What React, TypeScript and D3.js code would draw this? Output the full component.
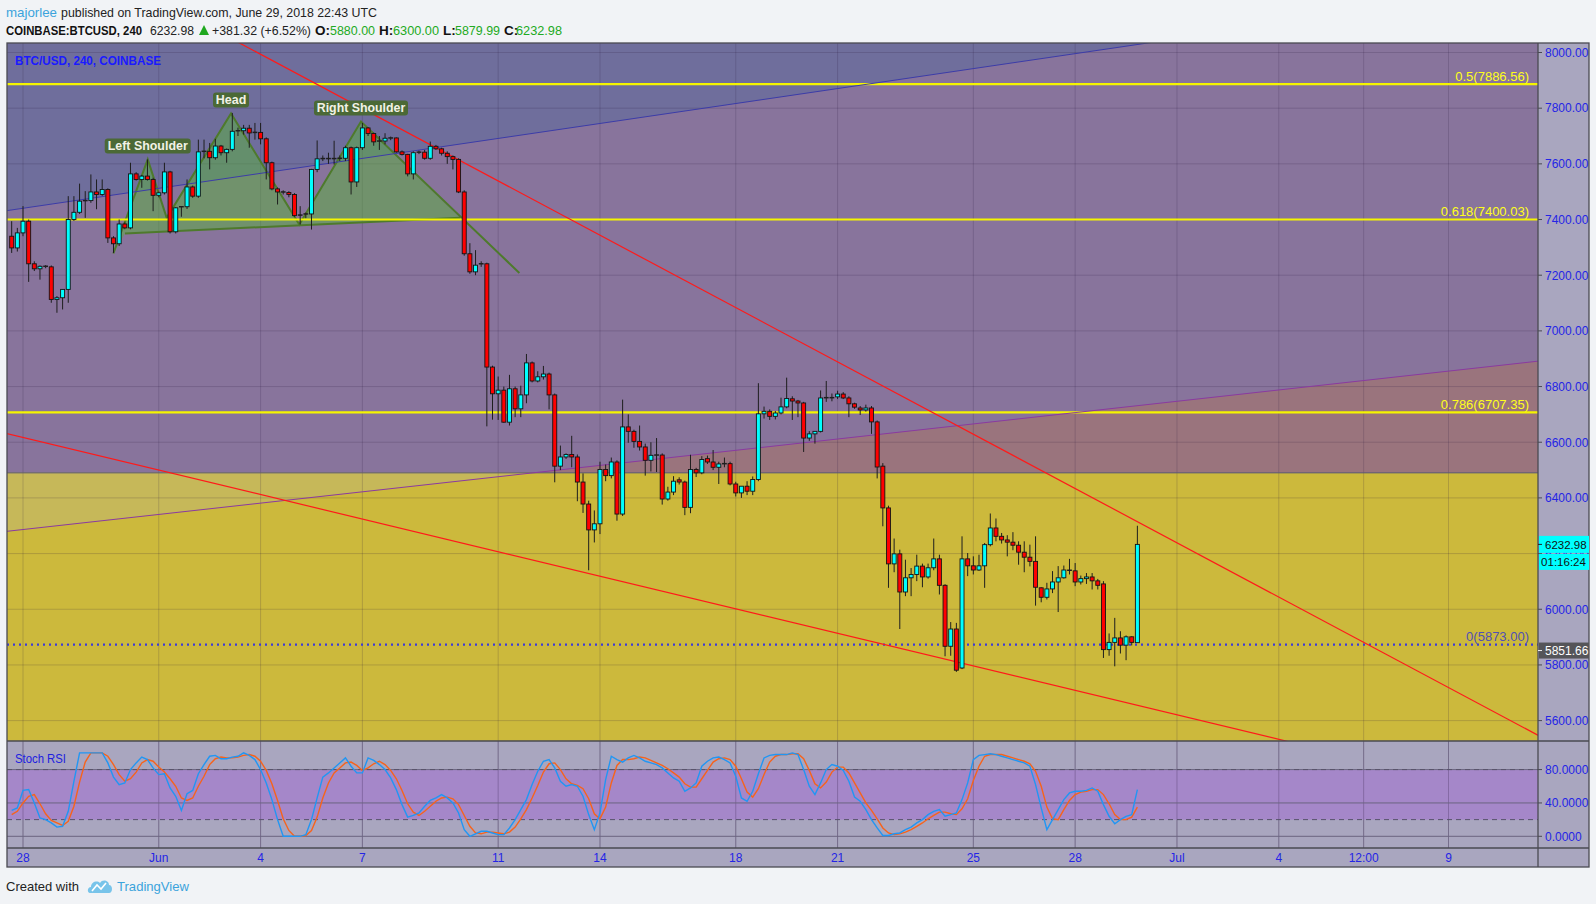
import React from "react";
import * as d3 from "d3";

// ---------- DATA ----------
const FIRST_BAR = Date.UTC(2018, 4, 27, 16); // first visible 4h candle
const BAR_MS = 4 * 3600 * 1000;
const t = (day: number, hour: number) => Date.UTC(2018, 4, day) + hour * 3600e3;

// [open, high, low, close] per 4h candle
const candles: [number, number, number, number][] = [
  [7340,7394,7280,7298],[7298,7370,7285,7352],[7352,7448,7340,7394],[7394,7400,7176,7241],[7241,7250,7215,7223],
  [7223,7235,7184,7232],[7232,7236,7225,7230],[7230,7235,7101,7113],[7113,7125,7065,7119],[7119,7150,7077,7149],
  [7149,7484,7101,7400],[7400,7484,7395,7426],[7426,7529,7420,7466],[7466,7502,7406,7468],[7468,7562,7460,7499],
  [7499,7544,7437,7490],[7490,7544,7485,7508],[7508,7512,7316,7334],[7334,7340,7280,7313],[7313,7400,7305,7384],
  [7384,7390,7365,7370],[7370,7604,7365,7564],[7564,7570,7540,7544],[7544,7560,7514,7556],[7556,7616,7540,7544],
  [7544,7550,7430,7487],[7487,7500,7480,7496],[7496,7604,7490,7571],[7571,7575,7350,7356],[7356,7445,7350,7442],
  [7442,7448,7410,7446],[7446,7544,7438,7517],[7517,7522,7478,7484],[7484,7687,7478,7643],[7643,7687,7620,7645],
  [7645,7675,7580,7622],[7622,7690,7615,7664],[7664,7668,7630,7640],[7640,7655,7604,7652],[7652,7783,7645,7717],
  [7717,7730,7700,7719],[7719,7740,7705,7728],[7728,7740,7658,7711],[7711,7747,7687,7713],[7713,7747,7670,7690],
  [7690,7695,7544,7604],[7604,7608,7505,7510],[7510,7515,7454,7499],[7499,7505,7490,7497],[7497,7502,7480,7490],
  [7490,7495,7410,7414],[7414,7448,7382,7416],[7416,7425,7405,7420],[7420,7582,7364,7580],[7580,7684,7570,7618],
  [7618,7630,7610,7619],[7619,7640,7600,7618],[7618,7683,7598,7619],[7619,7630,7610,7620],[7620,7665,7610,7658],
  [7658,7662,7490,7535],[7535,7662,7517,7658],[7658,7747,7650,7729],[7729,7732,7700,7709],[7709,7712,7665,7679],
  [7679,7700,7650,7682],[7682,7710,7670,7692],[7692,7698,7685,7693],[7693,7695,7640,7643],[7643,7648,7630,7634],
  [7634,7636,7555,7564],[7564,7645,7544,7640],[7640,7648,7635,7642],[7642,7650,7615,7620],[7620,7680,7615,7663],
  [7663,7668,7650,7654],[7654,7658,7630,7638],[7638,7645,7600,7626],[7626,7630,7580,7616],[7616,7620,7495,7499],
  [7499,7505,7270,7277],[7277,7315,7205,7212],[7212,7290,7200,7236],[7236,7250,7230,7241],[7241,7245,6657,6870],
  [6870,6875,6681,6774],[6774,6836,6680,6787],[6787,6800,6670,6672],[6672,6842,6660,6792],[6792,6800,6690,6720],
  [6720,6803,6690,6770],[6770,6917,6740,6885],[6885,6890,6815,6820],[6820,6855,6815,6835],[6835,6874,6825,6845],
  [6845,6850,6718,6770],[6770,6775,6456,6514],[6514,6588,6500,6547],[6547,6560,6540,6556],[6556,6623,6510,6547],
  [6547,6556,6388,6457],[6457,6488,6346,6378],[6378,6390,6140,6285],[6285,6355,6240,6307],[6307,6530,6270,6502],
  [6502,6520,6460,6480],[6480,6545,6470,6529],[6529,6535,6318,6342],[6342,6753,6335,6655],[6655,6700,6598,6639],
  [6639,6645,6580,6603],[6603,6660,6570,6583],[6583,6595,6480,6535],[6535,6600,6495,6553],[6553,6615,6493,6554],
  [6554,6560,6376,6396],[6396,6440,6390,6421],[6421,6478,6410,6460],[6465,6474,6448,6457],[6457,6462,6338,6366],
  [6366,6555,6345,6502],[6502,6508,6475,6490],[6490,6550,6485,6538],[6541,6552,6522,6529],[6529,6572,6500,6510],
  [6510,6530,6450,6522],[6522,6545,6510,6523],[6523,6530,6445,6450],[6450,6458,6405,6418],[6418,6430,6400,6442],
  [6442,6460,6410,6424],[6424,6477,6410,6466],[6466,6812,6460,6702],[6702,6728,6685,6711],[6711,6718,6680,6693],
  [6693,6712,6682,6705],[6705,6760,6700,6727],[6727,6832,6722,6757],[6756,6765,6680,6748],[6748,6752,6690,6741],
  [6741,6745,6565,6615],[6615,6640,6605,6630],[6630,6640,6595,6639],[6639,6786,6635,6759],[6759,6820,6745,6760],
  [6760,6775,6747,6759],[6763,6785,6755,6773],[6773,6780,6755,6759],[6759,6765,6690,6738],[6738,6742,6720,6726],
  [6723,6730,6698,6716],[6716,6735,6710,6723],[6723,6730,6630,6673],[6673,6678,6470,6511],[6514,6525,6298,6364],
  [6364,6372,6077,6163],[6163,6254,6133,6199],[6199,6214,5929,6062],[6062,6178,6047,6113],[6113,6148,6047,6125],
  [6125,6196,6101,6155],[6155,6164,6079,6116],[6116,6164,6110,6149],[6149,6254,6140,6181],[6181,6196,6053,6086],
  [6086,6090,5831,5867],[5867,5954,5833,5929],[5929,5951,5775,5781],[5789,6262,5785,6181],[6181,6202,6119,6156],
  [6156,6190,6125,6141],[6141,6196,6138,6156],[6156,6238,6077,6232],[6232,6344,6226,6292],[6292,6326,6244,6262],
  [6262,6274,6236,6249],[6249,6266,6190,6241],[6241,6277,6212,6230],[6230,6244,6160,6205],[6205,6244,6133,6187],
  [6187,6232,6154,6172],[6172,6262,6013,6079],[6077,6079,6025,6043],[6043,6095,6035,6073],[6073,6137,6058,6098],
  [6098,6155,5990,6113],[6113,6157,6110,6141],[6140,6181,6125,6140],[6138,6166,6083,6098],[6098,6121,6089,6110],
  [6110,6130,6091,6116],[6116,6130,6071,6102],[6102,6109,6071,6086],[6091,6101,5825,5855],[5855,5913,5833,5881],
  [5881,5969,5795,5897],[5897,5921,5841,5871],[5871,5906,5817,5901],[5901,5903,5870,5881],[5880,6300,5879.99,6232.98],
];

const stochK = [
  31,34,55,56,40,22,20,16,11,12, 30,66,100,100,100,100,100,88,71,62,
  64,80,88,95,92,82,74,75,58,48, 31,51,55,75,86,96,97,93,93,95,
  96,100,97,92,80,64,44,20,0,0, 0,0,2,20,46,71,76,82,88,94,
  84,76,76,94,91,86,80,70,56,38, 23,25,28,36,43,46,50,46,40,28,
  8,0,3,6,6,4,2,2,10,20, 32,44,62,78,90,92,82,66,60,62,
  60,48,26,8,28,68,96,92,89,94, 97,94,90,88,86,82,76,70,66,54,
  58,64,84,90,94,95,92,88,72,46, 42,54,75,94,97,98,98,98,100,98,
  80,60,50,64,80,86,84,79,66,47, 42,32,20,10,1,1,3,4,8,11,
  16,20,26,30,32,24,26,28,44,64, 92,97,98,99,98,96,94,92,90,88,
  84,62,34,8,20,32,44,52,54,54, 55,58,54,38,24,15,20,24,26,56,
];
const stochD = [
  26,30,40,48,50,39,27,19,16,13, 18,36,65,89,100,100,100,96,86,74,
  66,69,77,88,92,90,83,77,69,60, 46,43,46,60,72,86,93,95,94,94,
  95,97,98,96,90,79,63,43,21,7, 0,0,1,7,23,46,64,76,82,88,
  89,85,79,82,87,90,86,79,69,55, 39,29,25,30,36,42,46,47,45,38,
  25,12,4,3,5,5,4,3,5,11, 21,32,46,61,77,87,88,80,69,63,
  61,57,45,27,21,35,64,85,92,92, 93,95,94,91,88,85,81,76,71,63,
  59,59,69,79,89,93,94,92,84,69, 53,47,57,74,89,96,98,98,99,99,
  93,79,63,58,65,77,83,83,76,64, 52,40,31,21,10,4,2,3,5,8,
  12,16,21,25,29,29,27,26,33,45, 67,84,96,98,98,98,96,94,92,90,
  87,78,60,35,21,20,32,43,50,53, 54,56,56,50,39,26,20,20,23,35,
];

const priceTicks = [5600, 5800, 6000, 6200, 6400, 6600, 6800, 7000, 7200, 7400, 7600, 7800, 8000];
const rsiTicks = [0, 40, 80];
const dateTicks = [
  Date.UTC(2018,4,28), Date.UTC(2018,5,1), Date.UTC(2018,5,4), Date.UTC(2018,5,7), Date.UTC(2018,5,11),
  Date.UTC(2018,5,14), Date.UTC(2018,5,18), Date.UTC(2018,5,21), Date.UTC(2018,5,25), Date.UTC(2018,5,28),
  Date.UTC(2018,6,1), Date.UTC(2018,6,4), Date.UTC(2018,6,6,12), Date.UTC(2018,6,9),
];
const dateLabels = ["28","Jun","4","7","11","14","18","21","25","28","Jul","4","12:00","9"];

const fibRatios = ["0.5", "0.618", "0.786", "0"];
const fibPrices = [7886.56, 7400.03, 6707.35, 5873.0];
const boxTopPrice = 6490; // top of the yellow zone

// trend lines as [time, price] anchor pairs
const redUpper: [number, number][] = [[t(36, 22.75), 7867], [t(72, 13.2), 5553]];
const redLower: [number, number][] = [[t(27, 12.7), 6631], [t(64, 22.1), 5535]];
const blueLine: [number, number][] = [[t(27, 12.7), 7432], [t(60, 20.4), 8029]];
const purpleLine: [number, number][] = [[t(27, 12.7), 6280], [t(72, 13.2), 6890]];

// head & shoulders pattern points
const hsPoints: [number, number][] = [
  [t(30, 15.9), 7278], [t(31, 16.2), 7616], [t(32, 5.6), 7406], [t(34, 3.1), 7781],
  [t(36, 3.4), 7382], [t(37, 23.0), 7752], [t(42, 15.0), 7208],
];
const hsNeck: [number, number][] = [[t(31, 0.1), 7350], [t(40, 21.0), 7406]];
const hsLabels = ["Left Shoulder", "Head", "Right Shoulder"];

const lastPrice = 6232.98;
const countdown = "01:16:24";
const markerPrice = 5851.66;

// ---------- LAYOUT ----------
const W = 1596, H = 904;
const L = 7, R = 1538, AXR = 1589, TOP = 43, MB = 741, RB = 848, XB = 867;
const FONT = "'Liberation Sans', Arial, sans-serif";
const AX_BLUE = "#2424e6";

export default function App() {
  const x = d3.scaleUtc().domain([Date.UTC(2018, 4, 28), Date.UTC(2018, 6, 9)]).range([23, 1448.5]);
  const y = d3.scaleLinear().domain([5600, 8000]).range([720.6, 52.5]);
  const yR = d3.scaleLinear().domain([0, 100]).range([836.3, 752.9]);
  const bx = (i: number) => x(FIRST_BAR + i * BAR_MS);

  const ext = (pts: [number, number][]) => {
    const x1 = x(pts[0][0]), y1 = y(pts[0][1]), x2 = x(pts[1][0]), y2 = y(pts[1][1]);
    const m = (y2 - y1) / (x2 - x1);
    const a = L - 20, b = R + 20;
    return { x1: a, y1: y1 + m * (a - x1), x2: b, y2: y1 + m * (b - x1) };
  };
  const bl = ext(blueLine), pl = ext(purpleLine), r1 = ext(redUpper), r2 = ext(redLower);
  const yTop = y(boxTopPrice);

  const kLine = d3.line<number>().x((_, i) => bx(i)).y((v) => yR(v));
  const hsPx = hsPoints.map((p) => [x(p[0]), y(p[1])] as [number, number]);
  const neckPx = hsNeck.map((p) => [x(p[0]), y(p[1])] as [number, number]);
  const hsPoly = [...hsPx.slice(0, 6), neckPx[1], neckPx[0]];
  const labelPts = [hsPx[1], hsPx[3], hsPx[5]];
  const labelW = [86, 36, 94];
  const labelTL = [80, 30.5, 88.5];

  return (
    <svg width={W} height={H} style={{ position: "absolute", left: 0, top: 0 }} fontFamily={FONT}>
      <defs>
        <clipPath id="mainClip"><rect x={L} y={TOP} width={R - L} height={MB - TOP} /></clipPath>
        <clipPath id="upperClip"><rect x={L} y={TOP} width={R - L} height={yTop - TOP} /></clipPath>
        <clipPath id="lowerClip"><rect x={L} y={yTop} width={R - L} height={MB - yTop} /></clipPath>
        <clipPath id="rsiClip"><rect x={L} y={MB} width={R - L} height={RB - MB} /></clipPath>
      </defs>
      <rect x={0} y={0} width={W} height={H} fill="#f1f3f6" />

      {/* header */}
      <text x={6} y={17} fontSize={13.5} fill="#3ba3dc" textLength={51} lengthAdjust="spacingAndGlyphs">majorlee</text>
      <text x={61} y={17} fontSize={13.5} fill="#222" textLength={316} lengthAdjust="spacingAndGlyphs">published on TradingView.com, June 29, 2018 22:43 UTC</text>
      <g fontSize={13.5}>
        <text x={6} y={35} fontWeight="bold" fill="#111" textLength={136} lengthAdjust="spacingAndGlyphs">COINBASE:BTCUSD, 240</text>
        <text x={150} y={35} fill="#222" textLength={44} lengthAdjust="spacingAndGlyphs">6232.98</text>
        <path d="M199,35 L204,25 L209,35 Z" fill="#1fa81f" />
        <text x={212} y={35} fill="#222" textLength={99} lengthAdjust="spacingAndGlyphs">+381.32 (+6.52%)</text>
        <text x={315} y={35} fontWeight="bold" fill="#111">O:</text>
        <text x={330} y={35} fill="#22aa22" textLength={45} lengthAdjust="spacingAndGlyphs">5880.00</text>
        <text x={379} y={35} fontWeight="bold" fill="#111">H:</text>
        <text x={393} y={35} fill="#22aa22" textLength={46} lengthAdjust="spacingAndGlyphs">6300.00</text>
        <text x={443} y={35} fontWeight="bold" fill="#111">L:</text>
        <text x={455} y={35} fill="#22aa22" textLength={45} lengthAdjust="spacingAndGlyphs">5879.99</text>
        <text x={504} y={35} fontWeight="bold" fill="#111">C:</text>
        <text x={516} y={35} fill="#22aa22" textLength={46} lengthAdjust="spacingAndGlyphs">6232.98</text>
      </g>

      {/* panels background */}
      <rect x={L} y={TOP} width={AXR - L} height={XB - TOP} fill="#a9a6bf" />
      <rect x={L} y={TOP} width={R - L} height={yTop - TOP} fill="#88749c" />
      <rect x={L} y={yTop} width={R - L} height={MB - yTop} fill="#ccb93c" />
      <g clipPath="url(#upperClip)">
        <polygon points={`${bl.x1},-2000 ${bl.x2},-2000 ${bl.x2},${bl.y2} ${bl.x1},${bl.y1}`} fill="#6f6e9c" />
        <polygon points={`${pl.x1},${pl.y1} ${pl.x2},${pl.y2} ${pl.x2},2000 ${pl.x1},2000`} fill="#9a747d" />
      </g>
      <g clipPath="url(#lowerClip)">
        <polygon points={`${pl.x1},-2000 ${pl.x2},-2000 ${pl.x2},${pl.y2} ${pl.x1},${pl.y1}`} fill="#c6b859" />
      </g>

      {/* grid */}
      <g stroke="rgba(40,20,60,0.18)" strokeWidth={1}>
        {priceTicks.map((p) => (
          <line key={p} x1={L} x2={R} y1={y(p)} y2={y(p)} />
        ))}
        {dateTicks.map((d) => (
          <line key={d} x1={x(d)} x2={x(d)} y1={TOP} y2={RB} />
        ))}
      </g>
      <line x1={L} x2={R} y1={yTop} y2={yTop} stroke="#5d5a6e" strokeWidth={1} />

      {/* drawings under candles */}
      <g clipPath="url(#mainClip)">
        <polygon points={hsPoly.map((p) => p.join(",")).join(" ")} fill="rgba(90,175,60,0.5)" />
        <polyline points={hsPx.map((p) => p.join(",")).join(" ")} fill="none" stroke="#4e7a2c" strokeWidth={2} />
        <line x1={neckPx[0][0]} y1={neckPx[0][1]} x2={neckPx[1][0]} y2={neckPx[1][1]} stroke="#4e7a2c" strokeWidth={2} />
        {fibPrices.slice(0, 3).map((p) => (
          <line key={p} x1={L} x2={R} y1={y(p)} y2={y(p)} stroke="#f5f500" strokeWidth={2.2} />
        ))}
        <line x1={L} x2={R} y1={y(fibPrices[3])} y2={y(fibPrices[3])} stroke="#3b3bd8" strokeWidth={2.2} strokeDasharray="2 4" />
        <line {...bl} stroke="#3c3ca8" strokeWidth={1} />
        <line {...pl} stroke="#8a3aa0" strokeWidth={1} />
        <line {...r1} stroke="#ff1a1a" strokeWidth={1.2} />
        <line {...r2} stroke="#ff1a1a" strokeWidth={1.2} />
      </g>

      {/* candles */}
      <g clipPath="url(#mainClip)">
        {candles.map((c, i) => {
          const cx = bx(i);
          const [o, h, l, cl] = c;
          const up = cl >= o;
          const yt = y(Math.max(o, cl));
          const hgt = Math.max(1, Math.abs(y(o) - y(cl)));
          return (
            <g key={i}>
              <line x1={cx} x2={cx} y1={y(h)} y2={y(l)} stroke="#1e1e1e" strokeWidth={1} />
              {hgt <= 1.5 ? (
                <line x1={cx - 2.4} x2={cx + 2.4} y1={yt} y2={yt} stroke="#1e1e1e" strokeWidth={1.5} />
              ) : (
                <rect x={cx - 2} y={yt} width={4} height={hgt} fill={up ? "#00ffff" : "#ff0000"} stroke="#141414" strokeWidth={0.9} />
              )}
            </g>
          );
        })}
      </g>

      {/* H&S labels */}
      {labelPts.map((p, i) => (
        <g key={hsLabels[i]}>
          <rect x={p[0] - labelW[i] / 2} y={p[1] - 21} width={labelW[i]} height={15} rx={3} fill="#4b6936" />
          <text x={p[0]} y={p[1] - 9.3} textAnchor="middle" fontSize={12.5} fontWeight="bold" fill="#f2f2e6" textLength={labelTL[i]} lengthAdjust="spacingAndGlyphs">{hsLabels[i]}</text>
        </g>
      ))}

      {/* fib labels */}
      {fibRatios.map((r, i) => (
        <text key={r} x={1529} y={y(fibPrices[i]) - (i === 3 ? 4 : 3.5)} textAnchor="end" fontSize={13}
          fill={i === 3 ? "#5050b4" : "#ffff1a"}>
          {`${r}(${fibPrices[i].toFixed(2)})`}
        </text>
      ))}

      <text x={15} y={65} fontSize={13} fontWeight="bold" fill="#1a1aff" textLength={146} lengthAdjust="spacingAndGlyphs">BTC/USD, 240, COINBASE</text>

      {/* Stoch RSI pane */}
      <g clipPath="url(#rsiClip)">
        <rect x={L} y={yR(80)} width={R - L} height={yR(20) - yR(80)} fill="#a587c9" />
        {dateTicks.map((d) => (
          <line key={d} x1={x(d)} x2={x(d)} y1={MB} y2={RB} stroke="rgba(40,20,60,0.25)" />
        ))}
        {rsiTicks.map((v) => (
          <line key={v} x1={L} x2={R} y1={yR(v)} y2={yR(v)} stroke="#6b6580" strokeWidth={1} />
        ))}
        <line x1={L} x2={R} y1={yR(80)} y2={yR(80)} stroke="#57536a" strokeDasharray="5 4" />
        <line x1={L} x2={R} y1={yR(20)} y2={yR(20)} stroke="#57536a" strokeDasharray="5 4" />
        <path d={kLine(stochD) || ""} fill="none" stroke="#f7631b" strokeWidth={1.4} />
        <path d={kLine(stochK) || ""} fill="none" stroke="#2196f3" strokeWidth={1.4} />
      </g>
      <text x={15} y={763} fontSize={13} fill="#2020e0" textLength={51} lengthAdjust="spacingAndGlyphs">Stoch RSI</text>

      {/* frame lines */}
      <g stroke="#4a4a52" strokeWidth={1.3} fill="none">
        <rect x={L} y={TOP} width={AXR - L} height={XB - TOP} />
        <line x1={L} x2={AXR} y1={MB} y2={MB} />
        <line x1={L} x2={AXR} y1={RB} y2={RB} />
        <line x1={R} x2={R} y1={TOP} y2={XB} />
      </g>

      {/* price axis */}
      {priceTicks.map((p) => (
        <g key={p}>
          <line x1={R} x2={R + 4} y1={y(p)} y2={y(p)} stroke="#4a4a52" />
          <text x={1545} y={y(p) + 4.3} fontSize={12} fill={AX_BLUE}>{p.toFixed(2)}</text>
        </g>
      ))}
      {rsiTicks.map((v) => (
        <g key={v}>
          <line x1={R} x2={R + 4} y1={yR(v)} y2={yR(v)} stroke="#4a4a52" />
          <text x={1545} y={yR(v) + 4.3} fontSize={12} fill={AX_BLUE}>{v.toFixed(4)}</text>
        </g>
      ))}
      {/* last price labels */}
      <rect x={R + 1} y={y(lastPrice) - 8.5} width={AXR - R - 1} height={17} fill="#00ffff" />
      <rect x={R + 1} y={y(lastPrice) + 9.5} width={AXR - R - 1} height={16} fill="#00ffff" />
      <line x1={R} x2={R + 4} y1={y(lastPrice)} y2={y(lastPrice)} stroke="#222" />
      <text x={1545} y={y(lastPrice) + 4.2} fontSize={11.5} fill="#111">{lastPrice.toFixed(2)}</text>
      <text x={1563.5} y={y(lastPrice) + 21.8} fontSize={11.5} fill="#111" textAnchor="middle">{countdown}</text>
      <rect x={R + 1} y={y(markerPrice) - 8} width={AXR - R - 1} height={16} fill="#555559" />
      <line x1={R} x2={R + 4} y1={y(markerPrice)} y2={y(markerPrice)} stroke="#eee" />
      <text x={1545} y={y(markerPrice) + 4.3} fontSize={12} fill="#ffffff">{markerPrice.toFixed(2)}</text>

      {/* time axis */}
      {dateTicks.map((d, i) => (
        <text key={d} x={x(d)} y={862} textAnchor="middle" fontSize={12} fill={AX_BLUE}>{dateLabels[i]}</text>
      ))}

      {/* footer */}
      <text x={6} y={891} fontSize={13} fill="#222" textLength={73} lengthAdjust="spacingAndGlyphs">Created with</text>
      <g transform="translate(88,878)">
        <path d="M2,15 C-1,15 -1,9 3,9 C3,4 9,2 12,5 C14,1 21,2 21,7 C25,7 25,15 21,15 Z" fill="#78c4ea" />
        <path d="M4,13 L9,7 L13,11 L18,5" fill="none" stroke="#ffffff" strokeWidth={1.6} />
      </g>
      <text x={117} y={891} fontSize={13} fill="#3ba3dc" textLength={72} lengthAdjust="spacingAndGlyphs">TradingView</text>
    </svg>
  );
}
